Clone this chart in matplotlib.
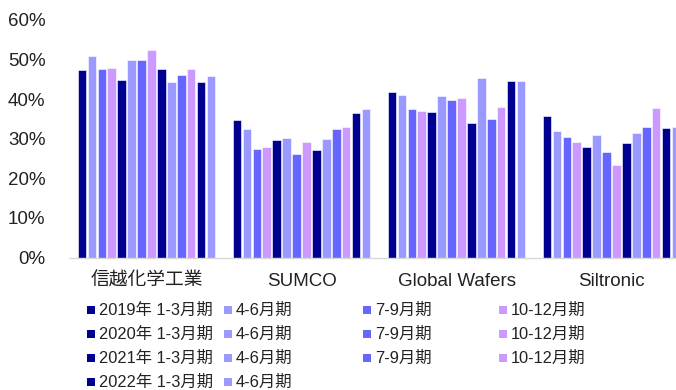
import matplotlib
matplotlib.use("Agg")
import matplotlib.pyplot as plt
from matplotlib.patches import Rectangle

plt.rcParams['font.family'] = ['Liberation Sans', 'Noto Sans CJK JP']

companies = ['信越化学工業', 'SUMCO', 'Global Wafers', 'Siltronic']
years = ['2019', '2020', '2021', '2022']
quarters = ['1-3月期', '4-6月期', '7-9月期', '10-12月期']
colors = ['#000090', '#9999ff', '#6666ff', '#cc99ff']

# 2019Q1 .. 2022Q2 gross margin (%), 14 quarters per company
shinetsu = [47.3, 50.9, 47.6, 47.9, 44.9, 50.0, 49.8, 52.5, 47.6, 44.4, 46.2, 47.6, 44.4, 45.8]
sumco = [34.8, 32.4, 27.5, 27.8, 29.7, 30.2, 26.1, 29.3, 27.1, 30.0, 32.5, 32.9, 36.5, 37.6]
globalwafers = [41.7, 41.0, 37.6, 37.1, 36.8, 40.7, 39.8, 40.3, 34.0, 45.3, 34.9, 37.9, 44.6, 44.6]
siltronic = [35.7, 31.9, 30.4, 29.3, 27.8, 30.9, 26.6, 23.4, 28.9, 31.5, 32.9, 37.8, 32.7, 32.9]

data = [shinetsu, sumco, globalwafers, siltronic]
n = len(shinetsu)

fig = plt.figure(figsize=(6.76, 3.9), dpi=100)
ax = fig.add_axes([69/676, 1-257.5/390, 620/676, 237.5/390])

pitch = 0.0641
for j in range(n):
    xs = [g + (j - (n-1)/2) * pitch for g in range(len(companies))]
    vals = [d[j] / 100 for d in data]
    ax.bar(xs, vals, width=pitch*0.86, color=colors[j % 4],
           edgecolor='white', linewidth=0.4)

ax.set_xlim(-0.5, 3.5)
ax.set_ylim(0, 0.6)
ax.set_yticks([i/10 for i in range(7)])
ax.set_yticklabels([f'{i*10}%' for i in range(7)], fontsize=13.5, color='#222222')
ax.set_xticks(range(len(companies)))
ax.set_xticklabels(companies, fontsize=13.5, color='#222222')
ax.tick_params(axis='y', length=0, pad=17)
ax.tick_params(axis='x', length=0, pad=11)
for s in ['top', 'left', 'right']:
    ax.spines[s].set_visible(False)
ax.spines['bottom'].set_color('#d9d9d9')
ax.spines['bottom'].set_linewidth(1)

# legend, laid out as in the original (equal-width columns, row by row)
col_x = [87, 224, 363, 499]
row_y = [310, 334, 358, 382]
for yi, year in enumerate(years):
    for qi, q in enumerate(quarters):
        if yi * 4 + qi >= n:
            continue
        x0 = col_x[qi]
        y0 = row_y[yi]
        fig.add_artist(Rectangle((x0/676, 1-(y0+4)/390), 8/676, 8/390,
                                 transform=fig.transFigure, color=colors[qi], lw=0))
        label = f'{year}年 {q}' if qi == 0 else q
        fig.text((x0+12)/676, 1-y0/390, label, fontsize=11.8, color='#222222',
                 va='center', ha='left')

fig.savefig('out.png', dpi=100)
